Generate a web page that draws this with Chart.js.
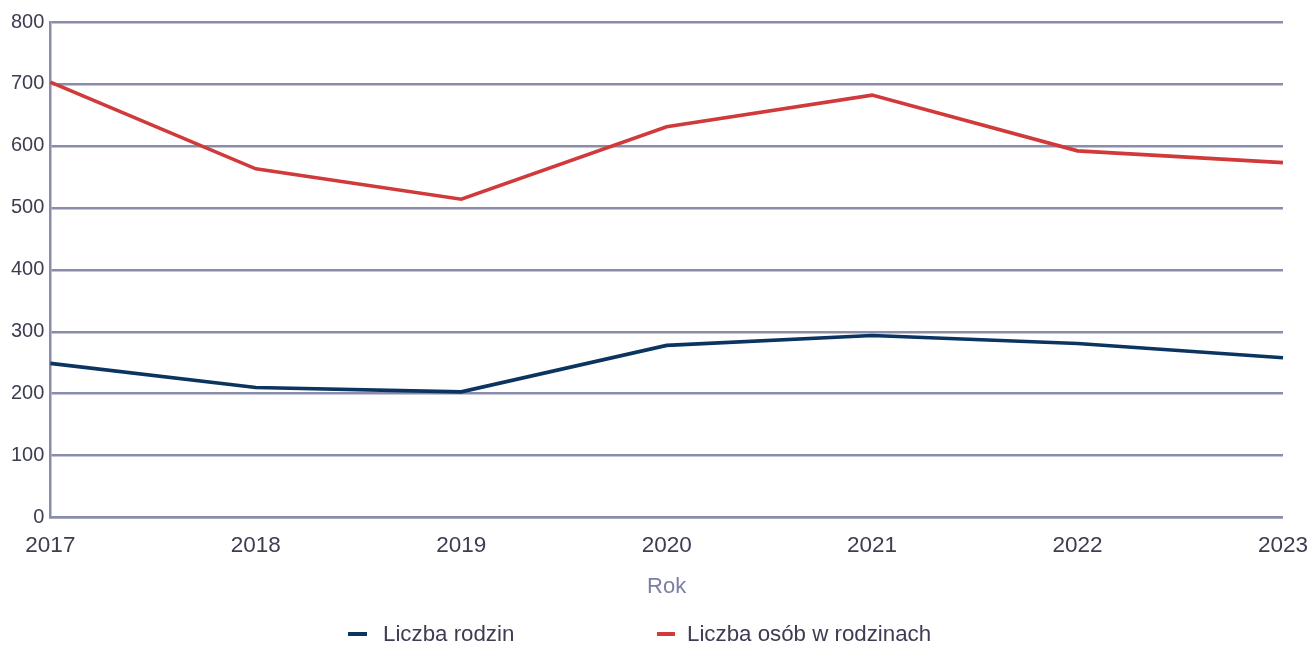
<!DOCTYPE html>
<html><head><meta charset="utf-8">
<script src="https://cdn.jsdelivr.net/npm/chart.js@4/dist/chart.umd.min.js"></script>
<style>
html,body{margin:0;padding:0;background:#fff;}
#wrap{width:1313px;height:645px;position:relative;}
.lg{position:absolute;top:621px;height:26px;display:flex;align-items:center;font-family:"Liberation Sans",Arial,sans-serif;font-size:22.3px;color:#3c3c52;white-space:nowrap;}
.lg i{display:inline-block;width:19px;height:3.5px;margin-right:16px;}
#lg1 i{width:18px;margin-right:12px;}
</style>
</head><body><div id="wrap"><canvas id="c"></canvas>
<div class="lg" id="lg0" style="left:348px"><i></i><span></span></div>
<div class="lg" id="lg1" style="left:657px"><i></i><span></span></div>
</div>
<script>
const years = ['2017','2018','2019','2020','2021','2022','2023'];
const liczbaRodzin = [249, 210, 203, 278, 294, 281, 258];
const liczbaOsob = [703, 563, 514, 631, 682, 592, 573];
const yTicks = [0,100,200,300,400,500,600,700,800];
const seriesNames = ['Liczba rodzin', 'Liczba osób w rodzinach'];
const seriesColors = ['#0b3461', '#d13a3a'];
const gridColor = '#8a8cab';
const textColor = '#3c3c52';
Chart.defaults.font.family = '"Liberation Sans", Arial, sans-serif';
const chart = new Chart(document.getElementById('c'), {
  type: 'line',
  data: {
    labels: years,
    datasets: [
      {label: seriesNames[0], data: liczbaRodzin, borderColor: seriesColors[0], backgroundColor: seriesColors[0], borderWidth: 3.6, pointRadius: 0, tension: 0},
      {label: seriesNames[1], data: liczbaOsob, borderColor: seriesColors[1], backgroundColor: seriesColors[1], borderWidth: 3.6, pointRadius: 0, tension: 0}
    ]
  },
  options: {
    responsive: true, maintainAspectRatio: false, animation: false,
    layout: {padding: {top: 22, right: 0, left: 5, bottom: 45}},
    plugins: {
      legend: {display: false},
      tooltip: {enabled: false}
    },
    scales: {
      x: {
        afterFit: (scale) => { scale.paddingRight = Math.max(0, scale.paddingRight - 2); },
        grid: {display: false},
        border: {display: true, color: gridColor, width: 2.5},
        ticks: {color: textColor, font: {size: 22.5}, padding: 7, maxRotation: 0},
        title: {display: true, text: 'Rok', color: '#7b7fa3', font: {size: 22}, padding: {top: 7, bottom: 0}}
      },
      y: {
        min: 0, max: 800,
        afterBuildTicks: (axis) => { axis.ticks = yTicks.map(v => ({value: v})); },
        grid: {color: gridColor, lineWidth: 2.5, drawTicks: false},
        border: {display: true, color: gridColor, width: 2.5},
        ticks: {color: textColor, font: {size: 20}, padding: 6}
      }
    }
  }
});
chart.data.datasets.forEach((ds, i) => {
  const el = document.getElementById('lg' + i);
  el.querySelector('i').style.background = ds.borderColor;
  el.querySelector('span').textContent = ds.label;
});
</script></body></html>
